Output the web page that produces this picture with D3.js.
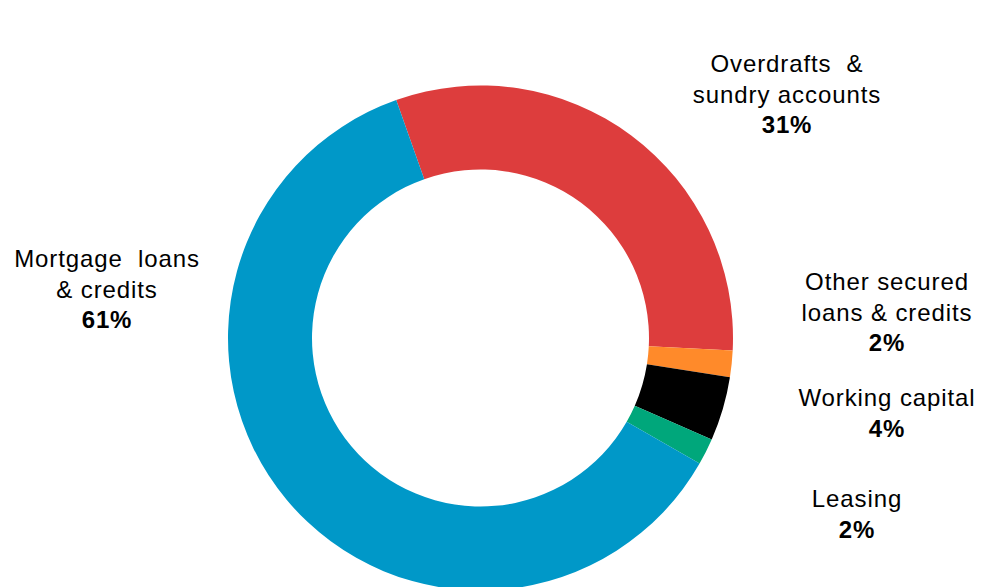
<!DOCTYPE html>
<html><head><meta charset="utf-8">
<script src="https://cdn.jsdelivr.net/npm/d3@7"></script>
<style>body{margin:0;background:#fff;}svg{display:block;}</style>
</head><body>
<svg id="c" width="982" height="587"></svg>
<script>
const categories = ["Overdrafts & sundry accounts","Other secured loans & credits","Working capital","Leasing","Mortgage loans & credits"];
const values = [31.2, 1.7, 4.1, 1.7, 61.3];
const pctLabels = ["31%","2%","4%","2%","61%"];
const labelLines = [["Overdrafts  &","sundry accounts"],["Other secured","loans & credits"],["Working capital"],["Leasing"],["Mortgage  loans","& credits"]];
const colors = ["#DD3D3D","#FF8A2A","#000000","#00A77B","#0098C8"];

const W=982,H=587, cx=480.5, cy=338, rO=252.5, rI=168.5;
const svg=d3.select("#c");
const g=svg.append("g").attr("transform",`translate(${cx},${cy})`);
const startA=-19.5*Math.PI/180;
const pie=d3.pie().sort(null).value(d=>d).startAngle(startA).endAngle(startA+2*Math.PI);
const arc=d3.arc().innerRadius(rI).outerRadius(rO);
g.selectAll("path").data(pie(values)).join("path").attr("d",arc).attr("fill",(d,i)=>colors[i]);

// label anchor positions (center x, first baseline)
const labelPos=[[787,72],[887,290],[887,406],[857,507],[107,267]];
const lh=30.5;
labelPos.forEach((p,i)=>{
  const t=svg.append("text").attr("text-anchor","middle").attr("font-family","'Liberation Sans',Arial,sans-serif").attr("font-size",24).attr("letter-spacing",0.9).attr("fill","#000");
  labelLines[i].forEach((l,j)=>{
    t.append("tspan").attr("x",p[0]).attr("y",p[1]+j*lh).style("white-space","pre").text(l);
  });
  t.append("tspan").attr("x",p[0]).attr("y",p[1]+labelLines[i].length*lh).attr("font-weight","bold").attr("letter-spacing",0.8).text(pctLabels[i]);
});
</script>
</body></html>
